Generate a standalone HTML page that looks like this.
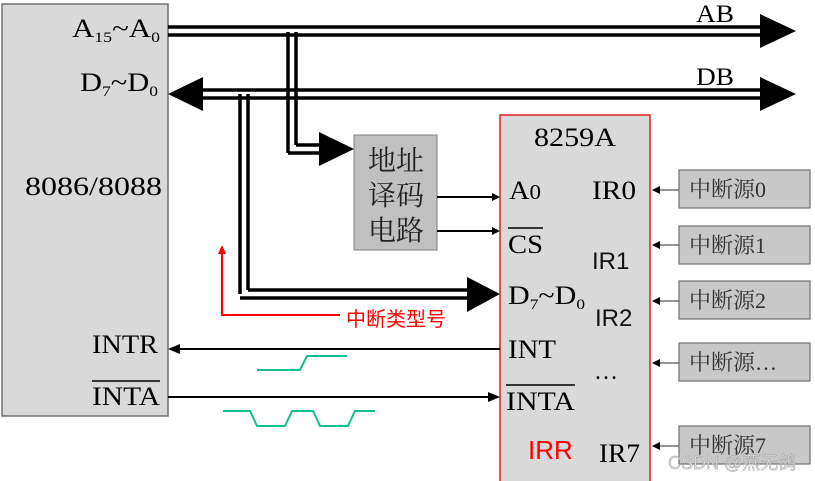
<!DOCTYPE html>
<html><head><meta charset="utf-8"><style>body{margin:0;background:#fff}svg{display:block}</style></head><body>
<svg width="815" height="481" viewBox="0 0 815 481" xmlns="http://www.w3.org/2000/svg" font-family="'Liberation Serif','Noto Serif CJK SC',serif">
<rect x="2" y="4" width="166" height="412" fill="#d9d9d9" stroke="#707070" stroke-width="1.5"/>
<text x="72" y="37" font-size="26" textLength="88" lengthAdjust="spacingAndGlyphs">A<tspan font-size="15" dy="5">15</tspan><tspan dy="-5">~A</tspan><tspan font-size="15" dy="5">0</tspan></text>
<text x="80" y="91" font-size="26" textLength="78" lengthAdjust="spacingAndGlyphs">D<tspan font-size="15" dy="5">7</tspan><tspan dy="-5">~D</tspan><tspan font-size="15" dy="5">0</tspan></text>
<text x="25" y="195" font-size="26" textLength="137" lengthAdjust="spacingAndGlyphs">8086/8088</text>
<text x="92" y="353" font-size="26" textLength="66" lengthAdjust="spacingAndGlyphs">INTR</text>
<text x="92" y="405" font-size="26" textLength="68" lengthAdjust="spacingAndGlyphs">INTA</text>
<line x1="92" y1="381" x2="160" y2="381" stroke="#000" stroke-width="1.5"/>
<g stroke="#000" stroke-width="3.5" fill="none">
<line x1="168" y1="27" x2="762" y2="27"/><line x1="168" y1="35" x2="762" y2="35"/>
<line x1="203" y1="90" x2="762" y2="90"/><line x1="203" y1="98" x2="762" y2="98"/>
<line x1="288" y1="32" x2="288" y2="153"/><line x1="296" y1="32" x2="296" y2="145"/>
<line x1="288" y1="153" x2="321" y2="153"/><line x1="296" y1="145" x2="321" y2="145"/>
<line x1="240" y1="94" x2="240" y2="294"/><line x1="248" y1="94" x2="248" y2="290"/>
<line x1="248" y1="290" x2="469" y2="290"/><line x1="240" y1="298" x2="469" y2="298"/>
</g>
<polygon points="760,14 796,31 760,48" fill="#000"/>
<polygon points="760,77 796,94 760,111" fill="#000"/>
<polygon points="203,77 168,94 203,111" fill="#000"/>
<polygon points="319,132 354,149 319,166" fill="#000"/>
<polygon points="467,277 500,294 467,312" fill="#000"/>
<text x="696" y="22" font-size="25" textLength="38" lengthAdjust="spacingAndGlyphs">AB</text>
<text x="696" y="85" font-size="25" textLength="38" lengthAdjust="spacingAndGlyphs">DB</text>
<rect x="354" y="135" width="83" height="115" fill="#c0c0c0" stroke="#808080" stroke-width="1"/>
<text x="396" y="170" font-size="28" text-anchor="middle" fill="#222">地址</text>
<text x="396" y="205" font-size="28" text-anchor="middle" fill="#222">译码</text>
<text x="396" y="240" font-size="28" text-anchor="middle" fill="#222">电路</text>
<g stroke="#000" stroke-width="2"><line x1="437" y1="197" x2="494" y2="197"/><line x1="437" y1="231" x2="494" y2="231"/></g>
<polygon points="492,193 500,197 492,201" fill="#000"/><polygon points="492,227 500,231 492,235" fill="#000"/>
<polyline points="222,252 222,315 340,315" fill="none" stroke="#f00" stroke-width="2"/>
<polygon points="218,254 222,245 226,254" fill="#f00"/>
<text x="346" y="326" font-size="20" fill="#f00" font-family="'Noto Sans CJK SC',sans-serif">中断类型号</text>
<rect x="500" y="115" width="150" height="368" fill="#d9d9d9" stroke="#e02020" stroke-width="1.5"/>
<text x="534" y="146" font-size="26" textLength="82" lengthAdjust="spacingAndGlyphs">8259A</text>
<text x="509" y="199" font-size="26" textLength="32" lengthAdjust="spacingAndGlyphs">A<tspan font-size="21">0</tspan></text>
<text x="508" y="253" font-size="26" textLength="35" lengthAdjust="spacingAndGlyphs">CS</text>
<line x1="508" y1="228" x2="543" y2="228" stroke="#000" stroke-width="1.5"/>
<text x="508" y="304" font-size="26" textLength="77" lengthAdjust="spacingAndGlyphs">D<tspan font-size="15" dy="5">7</tspan><tspan dy="-5">~D</tspan><tspan font-size="15" dy="5">0</tspan></text>
<text x="508" y="358" font-size="26" textLength="48" lengthAdjust="spacingAndGlyphs">INT</text>
<text x="506" y="410" font-size="26" textLength="69" lengthAdjust="spacingAndGlyphs">INTA</text>
<line x1="506" y1="385" x2="575" y2="385" stroke="#000" stroke-width="1.5"/>
<text x="528" y="459" font-size="26" fill="#f00" font-family="'Liberation Sans',sans-serif">IRR</text>
<text x="592" y="199" font-size="26" textLength="44" lengthAdjust="spacingAndGlyphs">IR0</text>
<text x="592" y="269" font-size="24" font-family="'Liberation Sans',sans-serif" fill="#111">IR1</text>
<text x="595" y="326" font-size="24" font-family="'Liberation Sans',sans-serif" fill="#111">IR2</text>
<text x="594" y="379" font-size="24">…</text>
<text x="599" y="462" font-size="26" textLength="41" lengthAdjust="spacingAndGlyphs">IR7</text>
<g fill="#c8c8c8" stroke="#707070" stroke-width="1.2">
<rect x="679" y="170" width="131" height="38"/><rect x="679" y="226" width="131" height="38"/>
<rect x="679" y="281" width="131" height="38"/><rect x="679" y="343" width="131" height="38"/>
<rect x="679" y="426" width="131" height="38"/></g>
<g font-size="22" fill="#333"><text x="689" y="197">中断源0</text><text x="689" y="253">中断源1</text><text x="689" y="308">中断源2</text><text x="689" y="370">中断源…</text><text x="689" y="453">中断源7</text></g>
<g stroke="#555" stroke-width="1.2"><line x1="658" y1="190" x2="679" y2="190"/><line x1="658" y1="245" x2="679" y2="245"/><line x1="658" y1="301" x2="679" y2="301"/><line x1="658" y1="363" x2="679" y2="363"/><line x1="658" y1="446" x2="679" y2="446"/></g>
<g fill="#000"><polygon points="652,190 660,186 660,194"/><polygon points="652,245 660,241 660,249"/><polygon points="652,301 660,297 660,305"/><polygon points="652,363 660,359 660,367"/><polygon points="652,446 660,442 660,450"/></g>
<line x1="178" y1="349" x2="500" y2="349" stroke="#000" stroke-width="2"/>
<polygon points="168,349 180,344 180,354" fill="#000"/>
<line x1="168" y1="397" x2="490" y2="397" stroke="#000" stroke-width="2"/>
<polygon points="500,397 488,392 488,402" fill="#000"/>
<g fill="none" stroke="#10c090" stroke-width="2">
<polyline points="257,370 300,370 307,356 347,356"/>
<polyline points="223,411 250,411 257,426 285,426 292,411 313,411 320,426 348,426 355,411 375,411"/>
</g>
<text x="668" y="469" font-size="18" fill="#ddd" stroke="#999" stroke-width="0.4" font-family="'Liberation Sans','Noto Sans CJK SC',sans-serif">CSDN @燕无鸽</text>
</svg>
</body></html>
